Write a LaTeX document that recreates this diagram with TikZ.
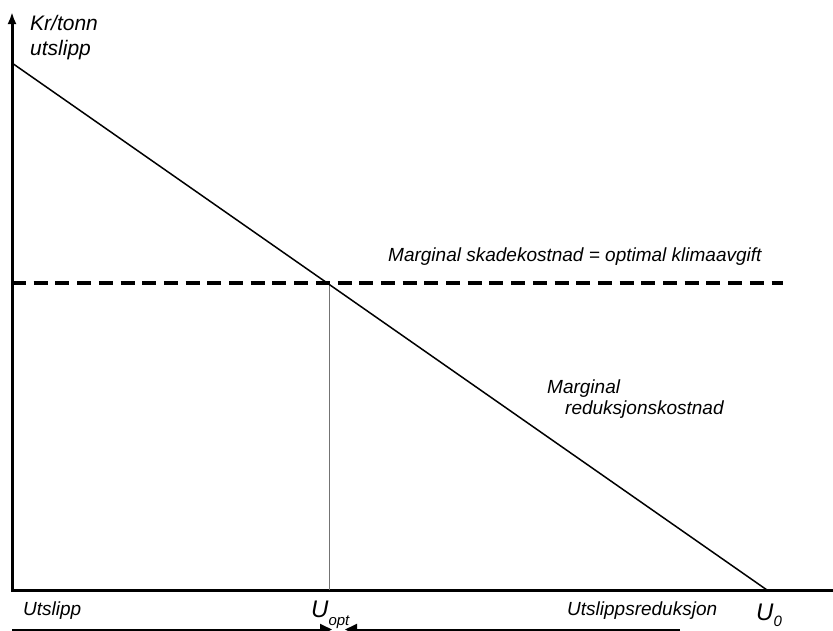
\documentclass[tikz,border=0pt]{standalone}
\usepackage{fontspec}
\setmainfont{Liberation Sans}
\usetikzlibrary{arrows.meta}
\begin{document}
\begin{tikzpicture}[x=1pt,y=-1pt,
  lbl/.style={anchor=base west,inner sep=0pt,font=\fontsize{19}{22}\selectfont\itshape},
  ylbl/.style={anchor=base west,inner sep=0pt,font=\fontsize{21}{24}\selectfont\itshape},
  biglbl/.style={anchor=base west,inner sep=0pt,font=\fontsize{24}{26}\selectfont\itshape},
  axisline/.style={line width=3pt,line join=miter},
  curve/.style={line width=1.5pt},
  taxline/.style={line width=4pt,dash pattern=on 14pt off 7.7pt},
  guide/.style={line width=1pt,black!55},
  flow/.style={line width=2pt,-{Triangle[length=12pt,width=11pt]}}]
\useasboundingbox (0,0) rectangle (833,630);
\coordinate (O) at (12,590);
\coordinate (Ytop) at (12,12);
\coordinate (Xend) at (833,590);
\coordinate (A) at (12,63);
\coordinate (U0pt) at (767,590);
\coordinate (D1) at (12,283);
\coordinate (D2) at (783,283);
\coordinate (P) at (329,283);
\coordinate (Pb) at (329,590);
\coordinate (L1) at (12,629.5);
\coordinate (L2) at (332,629.5);
\coordinate (R1) at (680,629.5);
\coordinate (R2) at (345,629.5);
% axes
\draw[axisline,-{Latex[length=12pt,width=9pt]}] (Xend) -- (O) -- (Ytop);
% guide
\draw[guide] (P) -- (Pb);
% curve
\draw[curve] (A) -- (U0pt);
% tax line
\draw[taxline] (D1) -- (D2);
% bottom arrows
\draw[flow] (L1) -- (L2);
\draw[flow] (R1) -- (R2);
% labels
\node[ylbl] (ylab1) at (30,30) {Kr/tonn};
\node[ylbl] (ylab2) at (30,55) {utslipp};
\node[lbl] (msk) at (388,261) {Marginal skadekostnad = optimal klimaavgift};
\node[lbl] (mr1) at (547,393) {Marginal};
\node[lbl] (mr2) at (565,414) {reduksjonskostnad};
\node[lbl] (uts) at (23,615) {Utslipp};
\node[lbl] (utsr) at (567,615) {Utslippsreduksjon};
\node[biglbl] (uopt) at (311,617) {U\raisebox{-8pt}{\fontsize{15}{17}\selectfont opt}};
\node[biglbl] (uzero) at (756,620) {U\raisebox{-6pt}{\fontsize{15}{17}\selectfont 0}};
\end{tikzpicture}
\end{document}
